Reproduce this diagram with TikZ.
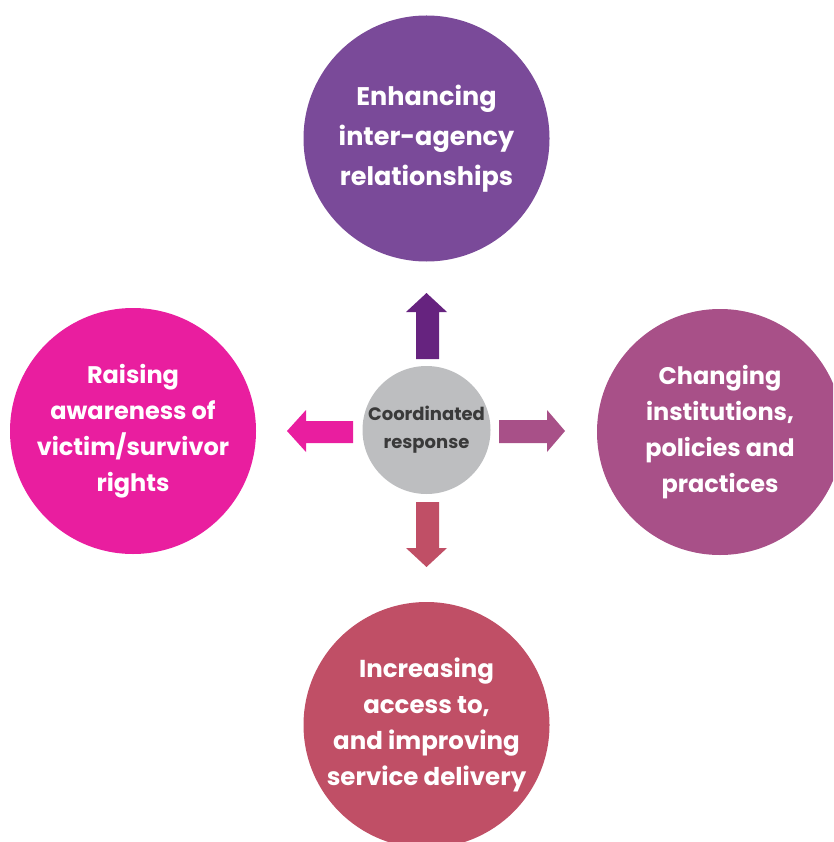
\documentclass[tikz,border=0pt]{standalone}
\usepackage{fontspec}
\setmainfont{Poppins}
\definecolor{cTop}{HTML}{7A4A99}
\definecolor{cUp}{HTML}{66237F}
\definecolor{cRight}{HTML}{A85088}
\definecolor{cBottom}{HTML}{C04F66}
\definecolor{cLeft}{HTML}{E91E9F}
\definecolor{cCenter}{HTML}{BDBEC0}
\definecolor{cText}{HTML}{3A3A3A}
\tikzset{
  bigcirc/.style={circle, minimum size=246pt, inner sep=0pt, text=white, align=center,
    font=\bfseries\fontsize{24}{36}\selectfont}
}
\begin{document}
\begin{tikzpicture}[x=1pt,y=-1pt]
\useasboundingbox (0,0) rectangle (833,842);
\clip (0,0) rectangle (833,842);
\node[bigcirc, fill=cTop, font=\bfseries\fontsize{25.5}{40}\selectfont] (top) at (426.5,138.5) {Enhancing\\inter-agency\\relationships};
\node[bigcirc, fill=cLeft] (left) at (133,431) {Raising\\awareness of\\victim/survivor\\rights};
\node[bigcirc, fill=cRight] (right) at (720,432) {Changing\\institutions,\\policies and\\practices};
\node[bigcirc, fill=cBottom, font=\bfseries\fontsize{24.5}{36}\selectfont] (bottom) at (426.5,725) {Increasing\\access to,\\and improving\\service delivery};
\node[circle, minimum size=128pt, inner sep=0pt, fill=cCenter, text=cText, align=center,
  font=\bfseries\fontsize{18}{28}\selectfont] (center) at (426.5,430) {Coordinated\\response};
% arrows
\fill[cUp] (416,359) -- (416,312) -- (406,312) -- (426.5,293) -- (447,312) -- (439,312) -- (439,359) -- cycle;
\fill[cLeft] (353,421) -- (306,421) -- (306,410) -- (287,431) -- (306,452) -- (306,443) -- (353,443) -- cycle;
\fill[cRight] (499,420) -- (547,420) -- (547,410) -- (565,431) -- (547,452) -- (547,443) -- (499,443) -- cycle;
\fill[cBottom] (416,502) -- (416,548) -- (406,548) -- (426.5,567) -- (447,548) -- (439,548) -- (439,502) -- cycle;
\end{tikzpicture}
\end{document}
